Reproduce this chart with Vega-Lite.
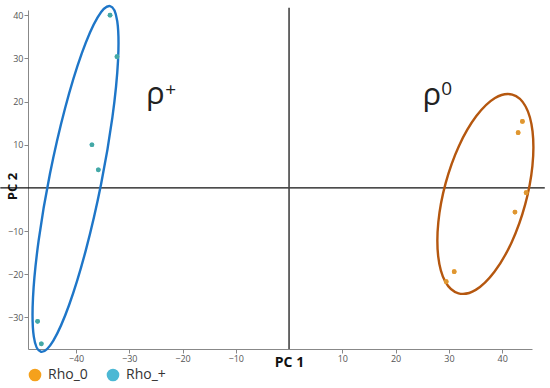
{
  "$schema": "https://vega.github.io/schema/vega-lite/v6.json",
  "autosize": {"type": "none"},
  "width": 504,
  "height": 339,
  "padding": {"left": 28, "top": 10, "right": 18, "bottom": 39},
  "background": "white",
  "config": {"view": {"stroke": null}, "font": "Open Sans"},
  "datasets": {
    "pts": [
      {"g": "Rho_+", "x": -33.6, "y": 40.0},
      {"g": "Rho_+", "x": -32.3, "y": 30.4},
      {"g": "Rho_+", "x": -37.0, "y": 10.0},
      {"g": "Rho_+", "x": -35.8, "y": 4.2},
      {"g": "Rho_+", "x": -47.2, "y": -30.9},
      {"g": "Rho_+", "x": -46.5, "y": -36.1},
      {"g": "Rho_0", "x": 43.8, "y": 15.4},
      {"g": "Rho_0", "x": 43.0, "y": 12.8},
      {"g": "Rho_0", "x": 44.5, "y": -1.1},
      {"g": "Rho_0", "x": 42.4, "y": -5.6},
      {"g": "Rho_0", "x": 31.0, "y": -19.4},
      {"g": "Rho_0", "x": 29.5, "y": -21.7}
    ],
    "ell": [
      {"g": "Rho_+", "i": 0, "x": -46.57, "y": -37.94},
      {"g": "Rho_+", "i": 1, "x": -44.24, "y": -35.35},
      {"g": "Rho_+", "i": 2, "x": -41.27, "y": -27.05},
      {"g": "Rho_+", "i": 3, "x": -38.13, "y": -14.35},
      {"g": "Rho_+", "i": 4, "x": -35.28, "y": 0.90},
      {"g": "Rho_+", "i": 5, "x": -33.16, "y": 16.32},
      {"g": "Rho_+", "i": 6, "x": -32.10, "y": 29.53},
      {"g": "Rho_+", "i": 7, "x": -32.25, "y": 38.61},
      {"g": "Rho_+", "i": 8, "x": -33.59, "y": 42.10},
      {"g": "Rho_+", "i": 9, "x": -35.93, "y": 39.51},
      {"g": "Rho_+", "i": 10, "x": -38.89, "y": 31.21},
      {"g": "Rho_+", "i": 11, "x": -42.03, "y": 18.51},
      {"g": "Rho_+", "i": 12, "x": -44.88, "y": 3.27},
      {"g": "Rho_+", "i": 13, "x": -47.00, "y": -12.16},
      {"g": "Rho_+", "i": 14, "x": -48.06, "y": -25.37},
      {"g": "Rho_+", "i": 15, "x": -47.91, "y": -34.45},
      {"g": "Rho_0", "i": 0, "x": 41.90, "y": 21.62},
      {"g": "Rho_0", "i": 1, "x": 44.38, "y": 18.92},
      {"g": "Rho_0", "i": 2, "x": 45.70, "y": 13.12},
      {"g": "Rho_0", "i": 3, "x": 45.68, "y": 5.12},
      {"g": "Rho_0", "i": 4, "x": 44.31, "y": -3.88},
      {"g": "Rho_0", "i": 5, "x": 41.81, "y": -12.51},
      {"g": "Rho_0", "i": 6, "x": 38.55, "y": -19.42},
      {"g": "Rho_0", "i": 7, "x": 35.04, "y": -23.61},
      {"g": "Rho_0", "i": 8, "x": 31.80, "y": -24.40},
      {"g": "Rho_0", "i": 9, "x": 29.32, "y": -21.70},
      {"g": "Rho_0", "i": 10, "x": 28.00, "y": -15.90},
      {"g": "Rho_0", "i": 11, "x": 28.02, "y": -7.90},
      {"g": "Rho_0", "i": 12, "x": 29.39, "y": 1.10},
      {"g": "Rho_0", "i": 13, "x": 31.89, "y": 9.73},
      {"g": "Rho_0", "i": 14, "x": 35.15, "y": 16.64},
      {"g": "Rho_0", "i": 15, "x": 38.66, "y": 20.83}
    ],
    "hline": [{"x": -54.2, "x2": 48.0, "y": 0}],
    "vline": [{"x": 0, "y": -37.3, "y2": 41.7}],
    "big": [
      {"t": "ρ", "x": -25.1, "y": 19.4},
      {"t": "ρ", "x": 26.8, "y": 19.2}
    ],
    "sup": [
      {"t": "+", "x": -22.2, "y": 22.6},
      {"t": "0", "x": 29.6, "y": 22.9}
    ]
  },
  "layer": [
    {
      "data": {"name": "hline"},
      "mark": {"type": "rule", "color": "#111111", "strokeWidth": 1.3},
      "encoding": {
        "x": {"field": "x", "type": "quantitative", "scale": {"domain": [-49, 45.6], "nice": false, "zero": false},
          "axis": {"values": [-40, -30, -20, -10, 10, 20, 30, 40], "title": "PC 1", "grid": false,
            "domainColor": "#888888", "tickColor": "#888888", "tickSize": 4, "labelColor": "#555555", "labelFontSize": 9, "labelPadding": 1,
            "titleFontSize": 14, "titleFontWeight": "bold", "titleColor": "#111111", "titleX": 261, "titleY": 13, "titleBaseline": "middle", "titleAlign": "center"}},
        "x2": {"field": "x2"},
        "y": {"field": "y", "type": "quantitative", "scale": {"domain": [-37.3, 41.2], "nice": false, "zero": false},
          "axis": {"values": [-30, -20, -10, 10, 20, 30, 40], "title": "PC 2", "grid": false,
            "domainColor": "#888888", "tickColor": "#888888", "tickSize": 4, "labelColor": "#555555", "labelFontSize": 9, "labelPadding": 1,
            "titleFontSize": 13, "titleFontWeight": "bold", "titleColor": "#111111", "titleX": -16, "titleY": 176, "titleBaseline": "middle", "titleAlign": "center", "titleAngle": -90}}
      }
    },
    {
      "data": {"name": "vline"},
      "mark": {"type": "rule", "color": "#444444", "strokeWidth": 1.6},
      "encoding": {
        "x": {"field": "x", "type": "quantitative"},
        "y": {"field": "y", "type": "quantitative"},
        "y2": {"field": "y2"}
      }
    },
    {
      "data": {"name": "ell"},
      "mark": {"type": "line", "interpolate": "cardinal-closed", "strokeWidth": 2.4},
      "encoding": {
        "x": {"field": "x", "type": "quantitative"},
        "y": {"field": "y", "type": "quantitative"},
        "order": {"field": "i", "type": "quantitative"},
        "detail": {"field": "g", "type": "nominal"},
        "stroke": {"field": "g", "type": "nominal", "scale": {"domain": ["Rho_0", "Rho_+"], "range": ["#b5570f", "#1e76c8"]}, "legend": null}
      }
    },
    {
      "data": {"name": "pts"},
      "mark": {"type": "circle", "size": 22, "opacity": 1},
      "encoding": {
        "x": {"field": "x", "type": "quantitative"},
        "y": {"field": "y", "type": "quantitative"},
        "color": {"field": "g", "type": "nominal", "title": null,
          "scale": {"domain": ["Rho_0", "Rho_+"], "range": ["#f5a11c", "#4cb8d4"]},
          "legend": {"orient": "none", "legendX": 0, "legendY": 358, "direction": "horizontal", "padding": 0,
            "symbolType": "circle", "symbolSize": 160, "symbolStrokeWidth": 0, "symbolOpacity": 1,
            "labelFontSize": 14, "labelColor": "#333333", "labelOffset": 6, "columnPadding": 18, "labelFont": "Open Sans"}}
      }
    },
    {
      "data": {"name": "pts"},
      "mark": {"type": "circle", "size": 22, "opacity": 1},
      "encoding": {
        "x": {"field": "x", "type": "quantitative"},
        "y": {"field": "y", "type": "quantitative"},
        "fill": {"field": "g", "type": "nominal", "scale": {"domain": ["Rho_0", "Rho_+"], "range": ["#de9632", "#45a8a4"]}, "legend": null}
      }
    },
    {
      "data": {"name": "big"},
      "mark": {"type": "text", "fontSize": 31, "font": "Open Sans", "align": "center", "baseline": "alphabetic", "color": "#222222"},
      "encoding": {
        "x": {"field": "x", "type": "quantitative"},
        "y": {"field": "y", "type": "quantitative"},
        "text": {"field": "t"}
      }
    },
    {
      "data": {"name": "sup"},
      "mark": {"type": "text", "fontSize": 19, "font": "Open Sans", "align": "center", "baseline": "middle", "color": "#222222"},
      "encoding": {
        "x": {"field": "x", "type": "quantitative"},
        "y": {"field": "y", "type": "quantitative"},
        "text": {"field": "t"}
      }
    }
  ],
  "resolve": {"scale": {"color": "independent", "fill": "independent", "stroke": "independent"}}
}
